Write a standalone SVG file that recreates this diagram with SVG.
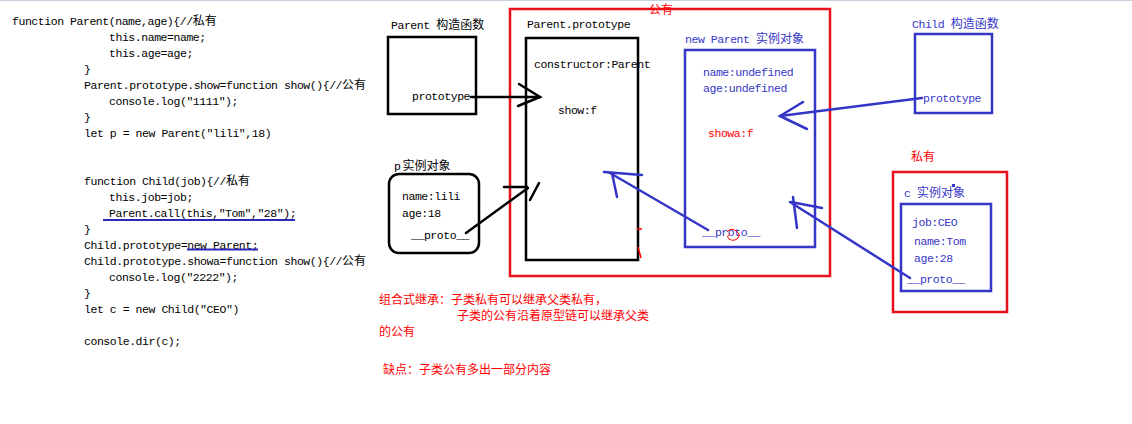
<svg xmlns="http://www.w3.org/2000/svg" width="1132" height="424" viewBox="0 0 1132 424">
<style>
.m{font-family:"Liberation Mono","Noto Sans CJK SC",monospace;font-size:11.5px;letter-spacing:-0.45px;fill:#000}
.cj{font-family:"Noto Sans CJK SC","Liberation Sans",sans-serif;font-size:12px;letter-spacing:0}
.b{fill:#3535c8}
.r{fill:#ff0000}
.kbox{fill:none;stroke:#000;stroke-width:2.5}
.bbox{fill:none;stroke:#3535c8;stroke-width:2.5}
.rbox{fill:none;stroke:#e8101a;stroke-width:2.5}
.kl{fill:none;stroke:#000;stroke-width:2.5;stroke-linecap:round}
.bl{fill:none;stroke:#3535c8;stroke-width:2.5;stroke-linecap:round}
.rl{fill:none;stroke:#ff0000;stroke-width:1.5}
.rt{font-family:"Noto Sans CJK SC","Liberation Sans",sans-serif;font-size:12px;fill:#ff0000}
</style>
<rect x="0" y="0" width="1132" height="424" fill="#fff"/>
<line x1="0" y1="0.5" x2="1132" y2="0.5" stroke="#c8d0e0" stroke-width="1"/>

<g id="code">
<text class="m" x="12" y="25">function Parent(name,age){//<tspan class="cj">私有</tspan></text>
<text class="m" x="109" y="41">this.name=name;</text>
<text class="m" x="109" y="57">this.age=age;</text>
<text class="m" x="84" y="73">}</text>
<text class="m" x="84" y="89">Parent.prototype.show=function show(){//<tspan class="cj">公有</tspan></text>
<text class="m" x="109" y="105">console.log("1111");</text>
<text class="m" x="84" y="121">}</text>
<text class="m" x="84" y="137">let p = new Parent("lili",18)</text>
<text class="m" x="84" y="185">function Child(job){//<tspan class="cj">私有</tspan></text>
<text class="m" x="109" y="201">this.job=job;</text>
<text class="m" x="109" y="217">Parent.call(this,"Tom","28");</text>
<text class="m" x="84" y="233">}</text>
<text class="m" x="84" y="249">Child.prototype=new Parent;</text>
<text class="m" x="84" y="265">Child.prototype.showa=function show(){//<tspan class="cj">公有</tspan></text>
<text class="m" x="109" y="281">console.log("2222");</text>
<text class="m" x="84" y="297">}</text>
<text class="m" x="84" y="313">let c = new Child("CEO")</text>
<text class="m" x="84" y="345">console.dir(c);</text>
<line x1="103" y1="220" x2="295" y2="220" stroke="#2a2ab8" stroke-width="2"/>
<line x1="187" y1="249.5" x2="258" y2="249.5" stroke="#2a2ab8" stroke-width="2"/>
</g>

<g id="parent-constructor">
<text class="m" x="391" y="29">Parent <tspan class="cj">构造函数</tspan></text>
<rect class="kbox" x="388" y="37" width="88" height="77"/>
<text class="m" x="412" y="100">prototype</text>
</g>

<g id="public-area">
<rect class="rbox" x="510" y="9" width="320" height="267"/>
<text class="rt" x="649" y="14">公有</text>
</g>

<g id="parent-prototype">
<text class="m" x="527" y="28">Parent.prototype</text>
<rect class="kbox" x="526" y="38" width="112" height="222"/>
<text class="m" x="534" y="68">constructor:Parent</text>
<text class="m" x="558" y="114">show:f</text>
<line class="rl" x1="637" y1="229" x2="642" y2="229"/>
<line class="rl" x1="638" y1="247" x2="641" y2="258"/>
</g>

<g id="p-instance">
<text class="m" x="394" y="170">p<tspan class="cj" dx="2">实例对象</tspan></text>
<rect class="kbox" x="389" y="174" width="90" height="79" rx="10"/>
<text class="m" x="402" y="200">name:lili</text>
<text class="m" x="402" y="217">age:18</text>
<text class="m" x="411" y="239">__proto__</text>
</g>

<g id="new-parent-instance">
<text class="m b" x="685" y="43">new Parent <tspan class="cj">实例对象</tspan></text>
<rect class="bbox" x="685" y="50" width="130" height="197"/>
<text class="m b" x="703" y="76">name:undefined</text>
<text class="m b" x="703" y="92">age:undefined</text>
<text class="m r" x="708" y="137">showa:f</text>
<text class="m b" x="702" y="236">__proto__</text>
<path d="M727,232 q4,-5 9,-1 q5,3 2,7 q-4,4 -9,1 q-3,-3 1,-5" fill="none" stroke="#ff0000" stroke-width="1"/>
</g>

<g id="child-constructor">
<text class="m b" x="912" y="28">Child <tspan class="cj">构造函数</tspan></text>
<rect class="bbox" x="915" y="34" width="77" height="79"/>
<text class="m b" x="923" y="102">prototype</text>
</g>

<g id="private-area">
<text class="rt" x="911" y="161">私有</text>
<rect class="rbox" x="893" y="172" width="114" height="140"/>
</g>

<g id="c-instance">
<text class="m b" x="904" y="197">c <tspan class="cj">实例对象</tspan></text>
<rect x="952" y="184" width="3" height="3" fill="#3535c8"/>
<rect class="bbox" x="901" y="204" width="90" height="87"/>
<text class="m b" x="912" y="226">job:CEO</text>
<text class="m b" x="914" y="245">name:Tom</text>
<text class="m b" x="914" y="262">age:28</text>
<text class="m b" x="907" y="283">__proto__</text>
</g>

<g id="connectors">
<line class="kl" x1="471" y1="97" x2="540" y2="97"/>
<polyline class="kl" points="519,84 540,97 518,106"/>
<line class="kl" x1="466" y1="233" x2="528" y2="188"/>
<line class="kl" x1="504" y1="187" x2="527" y2="187"/>
<line class="kl" x1="530" y1="200" x2="539" y2="183"/>
<line class="bl" x1="708" y1="230" x2="610" y2="173"/>
<line class="bl" x1="604" y1="172" x2="642" y2="175"/>
<line class="bl" x1="612" y1="173" x2="617" y2="197"/>
<line class="bl" x1="922" y1="98" x2="780" y2="116"/>
<polyline class="bl" points="803,102 780,116 807,129"/>
<line class="bl" x1="910" y1="278" x2="790" y2="202"/>
<line class="bl" x1="793" y1="197" x2="797" y2="228"/>
<line class="bl" x1="791" y1="202" x2="822" y2="208"/>
</g>

<g id="notes">
<text class="rt" x="379" y="304">组合式继承：子类私有可以继承父类私有，</text>
<text class="rt" x="457" y="320">子类的公有沿着原型链可以继承父类</text>
<text class="rt" x="379" y="336">的公有</text>
<text class="rt" x="383" y="374">缺点：子类公有多出一部分内容</text>
</g>
</svg>
